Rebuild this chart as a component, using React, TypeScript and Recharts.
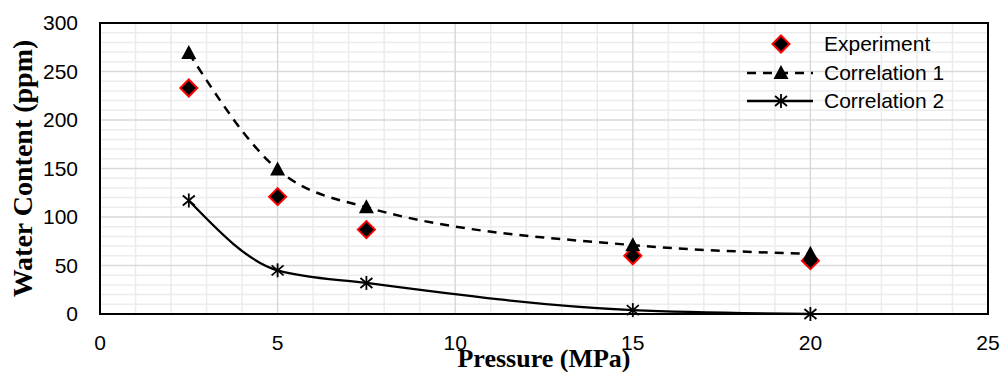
import React from "react"
import {
  CartesianGrid,
  ComposedChart,
  Legend,
  Line,
  ReferenceArea,
  XAxis,
  YAxis,
} from "recharts"

document.body.style.margin = "0"

const pressure = [2.5, 5, 7.5, 15, 20]
const experiment = [233, 121, 87, 60, 55]
const correlation1 = [269, 149, 110, 71, 62]
const correlation2 = [117, 45, 32, 4, 0]

const xDomain = [0, 25]
const yDomain = [0, 300]
const xTicks = [0, 5, 10, 15, 20, 25]
const yTicks = [0, 50, 100, 150, 200, 250, 300]
const minorX = [1, 2, 3, 4, 6, 7, 8, 9, 11, 12, 13, 14, 16, 17, 18, 19, 21, 22, 23, 24]
const minorY = [
  10, 20, 30, 40, 60, 70, 80, 90, 110, 120, 130, 140, 160, 170, 180, 190, 210,
  220, 230, 240, 260, 270, 280, 290,
]

const seriesNames = ["Experiment", "Correlation 1", "Correlation 2"]

const data = pressure.map((p, i) => ({
  pressure: p,
  experiment: experiment[i],
  corr1: correlation1[i],
  corr2: correlation2[i],
}))

const tickFont = { fontFamily: "Liberation Sans", fontSize: 21, fill: "#000" }

// map a value through the axis scale, whatever shape recharts hands us
function scaleOf(axis: any, v: number, start: number, size: number, dom: number[], flip: boolean) {
  const sc = axis && axis.scale
  if (typeof sc === "function") return sc(v)
  if (sc && typeof sc.map === "function") return sc.map(v)
  const t = (v - dom[0]) / (dom[1] - dom[0])
  return flip ? start + size * (1 - t) : start + size * t
}

function Diamond({ cx, cy }: any) {
  if (cx == null || cy == null) return null
  const r = 8.5
  return (
    <polygon
      points={`${cx},${cy - r} ${cx + r},${cy} ${cx},${cy + r} ${cx - r},${cy}`}
      fill="#000"
      stroke="#ff0000"
      strokeWidth={2}
    />
  )
}

function Triangle({ cx, cy }: any) {
  if (cx == null || cy == null) return null
  return (
    <polygon
      points={`${cx},${cy - 8} ${cx + 7.5},${cy + 6} ${cx - 7.5},${cy + 6}`}
      fill="#000"
    />
  )
}

function Star({ cx, cy }: any) {
  if (cx == null || cy == null) return null
  return (
    <g stroke="#000" strokeWidth={1.8}>
      <line x1={cx} y1={cy - 7} x2={cx} y2={cy + 7} />
      <line x1={cx - 6} y1={cy - 5} x2={cx + 6} y2={cy + 5} />
      <line x1={cx - 6} y1={cy + 5} x2={cx + 6} y2={cy - 5} />
    </g>
  )
}

function LegendBox() {
  const rows = [
    { line: null, shape: <Diamond cx={36} cy={12} /> },
    { line: "9 7", shape: <Triangle cx={36} cy={12} /> },
    { line: "0", shape: <Star cx={36} cy={12} /> },
  ]
  return (
    <div>
      {rows.map((r, i) => (
        <div key={i} style={{ display: "flex", alignItems: "center", height: 28.5 }}>
          <svg width={79} height={24}>
            {r.line && (
              <line
                x1={2}
                y1={12}
                x2={68}
                y2={12}
                stroke="#000"
                strokeWidth={2.5}
                strokeDasharray={r.line === "0" ? undefined : r.line}
              />
            )}
            {r.shape}
          </svg>
          <span style={{ fontFamily: "Liberation Sans", fontSize: 21, color: "#000" }}>
            {seriesNames[i]}
          </span>
        </div>
      ))}
    </div>
  )
}

export default function App() {
  return (
    <ComposedChart
      width={1001}
      height={372}
      data={data}
      margin={{ top: 23, right: 13, left: 0, bottom: 0 }}
    >
      <CartesianGrid
        stroke="#ececec"
        strokeWidth={1.5}
        horizontalCoordinatesGenerator={({ yAxis, offset }: any) =>
          minorY.map((v) => scaleOf(yAxis, v, offset.top, offset.height, yDomain, true))
        }
        verticalCoordinatesGenerator={({ xAxis, offset }: any) =>
          minorX.map((v) => scaleOf(xAxis, v, offset.left, offset.width, xDomain, false))
        }
      />
      <CartesianGrid stroke="#d9d9d9" strokeWidth={1.5} />
      <XAxis
        dataKey="pressure"
        type="number"
        domain={xDomain}
        ticks={xTicks}
        axisLine={false}
        tickLine={false}
        tickSize={0}
        tickMargin={21}
        tick={tickFont}
        height={58}
        interval={0}
        label={(props: any) => {
          const vb = props.viewBox
          return (
            <text
              x={vb.x + vb.width / 2}
              y={vb.y + 53}
              textAnchor="middle"
              fontFamily="Liberation Serif"
              fontWeight="bold"
              fontSize={26}
              fill="#000"
            >
              Pressure (MPa)
            </text>
          )
        }}
      />
      <YAxis
        type="number"
        domain={yDomain}
        ticks={yTicks}
        width={100}
        axisLine={false}
        tickLine={false}
        tickSize={0}
        tickMargin={22}
        tick={tickFont}
        interval={0}
        label={(props: any) => {
          const vb = props.viewBox
          const cy = vb.y + vb.height / 2
          return (
            <text
              x={32}
              y={cy}
              transform={`rotate(-90, 32, ${cy})`}
              textAnchor="middle"
              fontFamily="Liberation Serif"
              fontWeight="bold"
              fontSize={28}
              fill="#000"
            >
              Water Content (ppm)
            </text>
          )
        }}
      />
      <ReferenceArea
        x1={xDomain[0]}
        x2={xDomain[1]}
        y1={yDomain[0]}
        y2={yDomain[1]}
        fill="none"
        fillOpacity={0}
        stroke="#000"
        strokeWidth={2}
      />
      <Line
        dataKey="experiment"
        name={seriesNames[0]}
        stroke="none"
        dot={<Diamond />}
        activeDot={false}
        isAnimationActive={false}
      />
      <Line
        dataKey="corr1"
        name={seriesNames[1]}
        type="monotone"
        stroke="#000"
        strokeWidth={2.5}
        strokeDasharray="9 7"
        dot={<Triangle />}
        activeDot={false}
        isAnimationActive={false}
      />
      <Line
        dataKey="corr2"
        name={seriesNames[2]}
        type="monotone"
        stroke="#000"
        strokeWidth={2.3}
        dot={<Star />}
        activeDot={false}
        isAnimationActive={false}
      />
      <Legend
        layout="vertical"
        align="center"
        verticalAlign="middle"
        wrapperStyle={{ top: 30, left: 745, width: 240 }}
        content={() => <LegendBox />}
      />
    </ComposedChart>
  )
}
